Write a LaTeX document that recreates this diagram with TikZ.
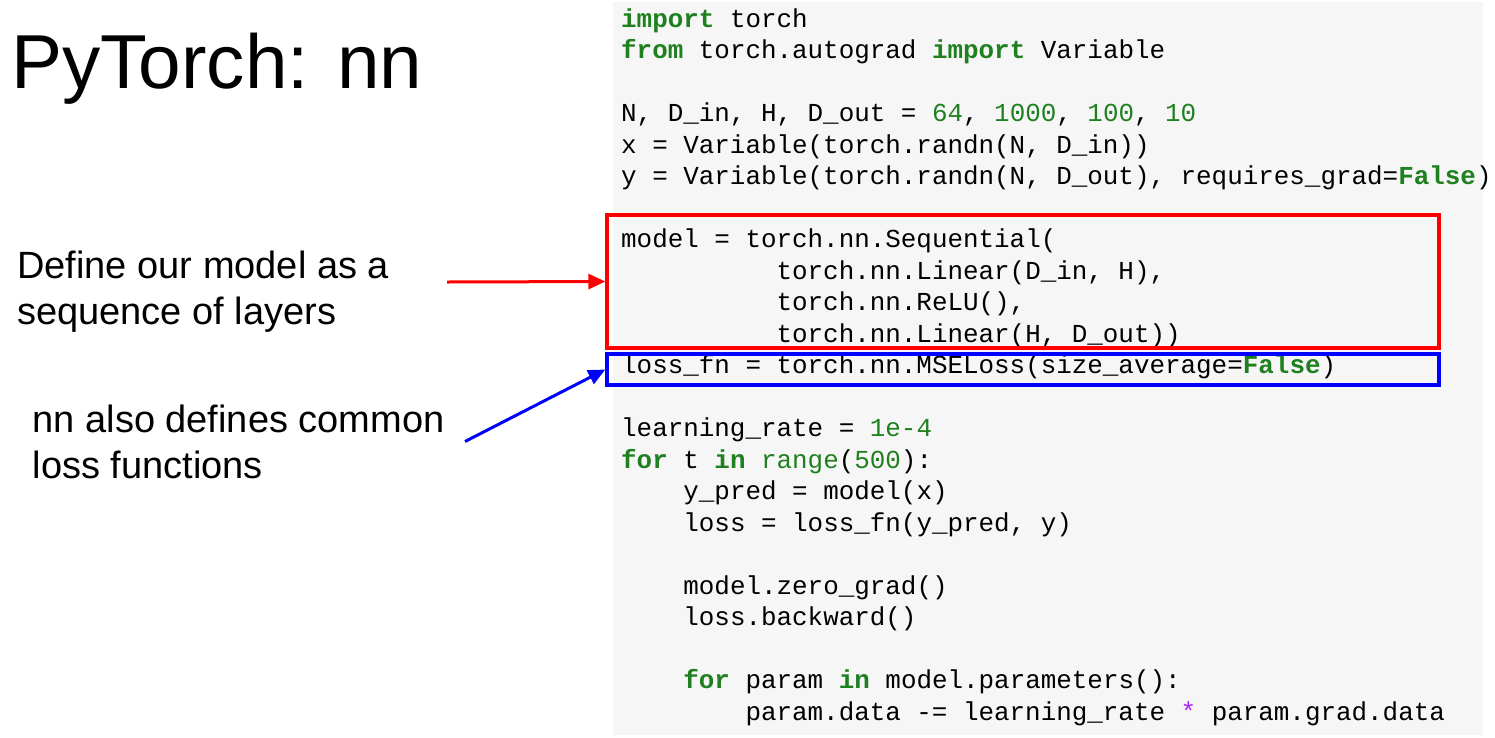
\documentclass[tikz,border=0pt]{standalone}
\usepackage{fontspec}
\usetikzlibrary{arrows.meta}
\newfontfamily\codefont{Liberation Mono}
\newfontfamily\slidefont{Liberation Sans}
\definecolor{kwgreen}{RGB}{30,128,30}
\definecolor{oppurple}{RGB}{170,34,255}
\definecolor{codebg}{RGB}{246,246,246}
\newcommand{\ckw}[1]{\textcolor{kwgreen}{\bfseries #1}}
\newcommand{\cnm}[1]{\textcolor{kwgreen}{#1}}
\newcommand{\cop}[1]{\textcolor{oppurple}{#1}}
\begin{document}
\begin{tikzpicture}[x=1pt,y=-1pt,
  codeline/.style={anchor=base west, inner sep=0pt, text=black,
    font=\codefont\fontsize{25.9}{31.5}\selectfont},
  slidetext/.style={anchor=base west, inner sep=0pt, text=black,
    font=\slidefont\fontsize{38}{46}\selectfont},
  hlbox/.style={draw, line width=4pt, rectangle, inner sep=0pt,
    minimum width=831.7pt},
  callout/.style={line width=3pt, -{Triangle[length=17pt,width=15pt]}}
]
\useasboundingbox (0,0) rectangle (1495,737);
% code background
\fill[codebg] (613,2) rectangle (1483,735);

% title
\node[anchor=base west, inner sep=0pt, font=\slidefont\fontsize{76.5}{90}\selectfont] (title) at (11,88) {PyTorch: nn};

% left annotations
\node[slidetext] (def1) at (17,278) {Define our model as a};
\node[slidetext] (def2) at (17,324) {sequence of layers};
\node[slidetext] (nn1) at (32.5,432) {nn also defines common};
\node[slidetext] (nn2) at (32.5,478) {loss functions};

% code lines (baseline = 27 + 31.5 i, char = 15.54)
\node[codeline] (c0)  at (621,27)    {\ckw{import} torch};
\node[codeline] (c1)  at (621,58.5)  {\ckw{from} torch.autograd \ckw{import} Variable};
\node[codeline] (c3)  at (621,121.5) {N, D\_in, H, D\_out = \cnm{64}, \cnm{1000}, \cnm{100}, \cnm{10}};
\node[codeline] (c4)  at (621,153)   {x = Variable(torch.randn(N, D\_in))};
\node[codeline] (c5)  at (621,184.5) {y = Variable(torch.randn(N, D\_out), requires\_grad=\ckw{False})};
\node[codeline] (c7)  at (621,247.5) {model = torch.nn.Sequential(};
\node[codeline] (c8)  at (776.4,279) {torch.nn.Linear(D\_in, H),};
\node[codeline] (c9)  at (776.4,310.5) {torch.nn.ReLU(),};
\node[codeline] (c10) at (776.4,342) {torch.nn.Linear(H, D\_out))};
\node[codeline] (c11) at (621,373.5) {loss\_fn = torch.nn.MSELoss(size\_average=\ckw{False})};
\node[codeline] (c13) at (621,436.5) {learning\_rate = \cnm{1e-4}};
\node[codeline] (c14) at (621,468)   {\ckw{for} t \ckw{in} \cnm{range}(\cnm{500}):};
\node[codeline] (c15) at (683.2,499.5) {y\_pred = model(x)};
\node[codeline] (c16) at (683.2,531)   {loss = loss\_fn(y\_pred, y)};
\node[codeline] (c18) at (683.2,594)   {model.zero\_grad()};
\node[codeline] (c19) at (683.2,625.5) {loss.backward()};
\node[codeline] (c21) at (683.2,688.5) {\ckw{for} param \ckw{in} model.parameters():};
\node[codeline] (c22) at (745.3,720)   {param.data -= learning\_rate \cop{*} param.grad.data};

% highlight boxes
\node[hlbox, draw=red, minimum height=133.6pt] (redbox) at (1023.2,281.5) {};
\node[hlbox, draw=blue, minimum height=31.6pt] (bluebox) at (1023.2,369.5) {};

% callout arrows
\coordinate (redstart) at (447,282);
\coordinate (bluestart) at (465,441.5);
\draw[callout, red] (redstart) -- (redbox.west);
\draw[callout, blue] (bluestart) -- (bluebox.west);
\end{tikzpicture}
\end{document}
